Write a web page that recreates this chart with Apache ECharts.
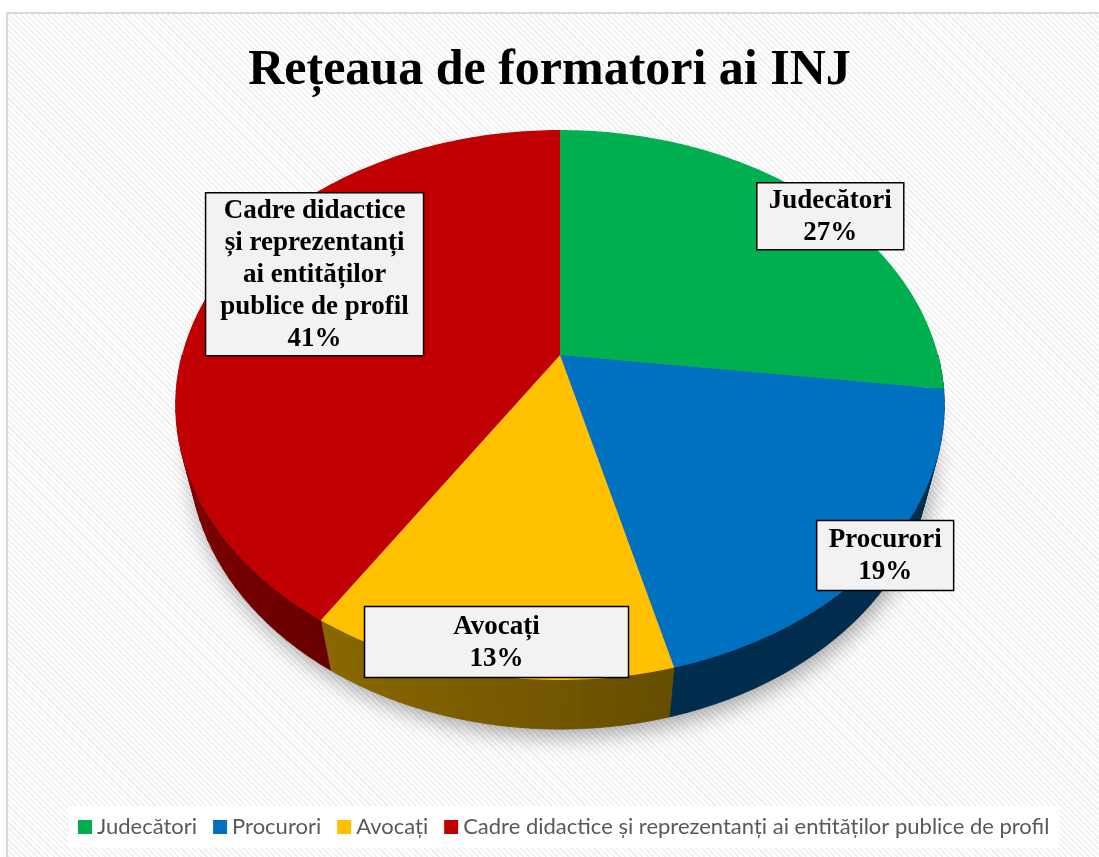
<!DOCTYPE html>
<html>
<head>
<meta charset="utf-8">
<script src="https://cdn.jsdelivr.net/npm/echarts@6/dist/echarts.min.js"></script>
<style>
    html, body {
        margin: 0;
        padding: 0;
        background: #fff;
    }
    .frame {
        position: absolute;
        left: 6px;
        top: 12px;
        width: 1100px;
        height: 860px;
        border: 2px solid #d9d9d9;
        background: repeating-linear-gradient(45deg, #efefef 0px, #efefef 1.5px, #ffffff 1.5px, #ffffff 4px);
    }
    #chart {
        position: absolute;
        left: 0;
        top: 0;
        width: 1099px;
        height: 857px;
    }
</style>
</head>
<body>
<div class="frame"></div>
<div id="chart"></div>
<script>
// date din grafic
var categories = ["Judecători", "Procurori", "Avocați", "Cadre didactice și reprezentanți ai entităților publice de profil"];
var values = [27, 19, 13, 41];
var labelLines = ["Judecători", "Procurori", "Avocați", "Cadre didactice\nși reprezentanți\nai entităților\npublice de profil"];
var colors = ["#00b050", "#0070c0", "#ffc000", "#c00000"];

// aspect: etichete (deplasare fata de pozitia calculata) si marimea casutelor
var labelOffset = [[40, 4], [39, 23], [0, 5], [67, -17]];
var labelBox = [[147, 67], [137, 70], [264, 71], [218, 163]];

// perspectiva pentru "3D"
var cx = 560, cy = 355;
var F = 1478, D = 3.91, H = 0.2;
var phi = 44.7 * Math.PI / 180;
var labelR = 0.9;

var total = values.reduce(function (s, v) { return s + v; }, 0);

function project(deg, r, h) {
    var t = deg * Math.PI / 180;
    var u = r * Math.sin(t);
    var v = -r * Math.cos(t);
    var yc = -v * Math.sin(phi) + h * Math.cos(phi);
    var zc = D - v * Math.cos(phi) - h * Math.sin(phi);
    return [cx + F * u / zc, cy - F * yc / zc];
}

function shade(hex, f) {
    var n = parseInt(hex.slice(1), 16);
    var r = Math.round(((n >> 16) & 255) * f);
    var g = Math.round(((n >> 8) & 255) * f);
    var b = Math.round((n & 255) * f);
    return "rgb(" + r + "," + g + "," + b + ")";
}

function wallFactor(deg) {
    if (deg < 165) return 0.4;
    return 0.4 + 0.32 * (deg - 165) / 105;
}

function makeRender(i) {
    return function (params, api) {
        var a0 = api.value(0) / total * 360;
        var a1 = api.value(1) / total * 360;
        var children = [];
        // peretele lateral (doar partea din fata)
        var w0 = Math.max(a0, 90), w1 = Math.min(a1, 270);
        var step = 2;
        for (var a = w0; a < w1; a += step) {
            var b = Math.min(a + step, w1);
            var c = shade(colors[i], wallFactor((a + b) / 2));
            children.push({
                type: "polygon",
                z2: 1,
                shape: { points: [project(a, 1, 0), project(b, 1, 0), project(b, 1, -H), project(a, 1, -H)] },
                style: { fill: c, stroke: c, lineWidth: 0.6 }
            });
        }
        // fata de sus
        var pts = [project(0, 0, 0)];
        for (var d = a0; d < a1; d += 1) {
            pts.push(project(d, 1, 0));
        }
        pts.push(project(a1, 1, 0));
        children.push({
            type: "polygon",
            z2: 10,
            shape: { points: pts },
            style: { fill: colors[i] }
        });
        // eticheta
        var mid = (a0 + a1) / 2;
        var p = project(mid, labelR, 0);
        var lx = p[0] + labelOffset[i][0];
        var ly = p[1] + labelOffset[i][1];
        var bw = labelBox[i][0], bh = labelBox[i][1];
        children.push({
            type: "rect",
            z2: 100,
            shape: { x: lx - bw / 2, y: ly - bh / 2, width: bw, height: bh },
            style: { fill: "#f2f2f2", stroke: "#000", lineWidth: 1.5 }
        });
        children.push({
            type: "text",
            z2: 101,
            x: lx,
            y: ly + 1,
            style: {
                text: labelLines[i] + "\n" + Math.round(values[i] / total * 100) + "%",
                font: 'bold 27px "Liberation Serif"',
                fill: "#000",
                align: "center",
                verticalAlign: "middle",
                lineHeight: 32
            }
        });
        return { type: "group", children: children };
    };
}

var series = [];
// umbra de sub disc
series.push({
    type: "custom",
    name: "umbra",
    coordinateSystem: "none",
    silent: true,
    data: [[0]],
    renderItem: function () {
        var pts = [];
        for (var d = 0; d < 360; d += 2) pts.push(project(d, 1, -H));
        return {
            type: "polygon",
            z2: 0,
            shape: { points: pts },
            style: {
                fill: "#777",
                shadowBlur: 22,
                shadowColor: "rgba(0,0,0,0.35)",
                shadowOffsetX: 3,
                shadowOffsetY: 7
            }
        };
    }
});
var cum = 0;
for (var i = 0; i < values.length; i++) {
    series.push({
        type: "custom",
        name: categories[i],
        coordinateSystem: "none",
        itemStyle: { color: colors[i] },
        data: [[cum, cum + values[i]]],
        renderItem: makeRender(i)
    });
    cum += values[i];
}

var chart = echarts.init(document.getElementById("chart"));
chart.setOption({
    backgroundColor: "transparent",
    animation: false,
    title: {
        text: "Rețeaua de formatori ai INJ",
        left: "center",
        top: 41,
        textStyle: {
            fontFamily: "Liberation Serif",
            fontWeight: "bold",
            fontSize: 50,
            color: "#000"
        }
    },
    legend: {
        data: categories,
        bottom: 9,
        left: 68,
        icon: "rect",
        itemWidth: 14,
        itemHeight: 14,
        itemGap: 16,
        backgroundColor: "#fff",
        padding: [10, 10],
        textStyle: {
            fontFamily: "Lato",
            fontSize: 22,
            color: "#595959"
        }
    },
    series: series
});
</script>
</body>
</html>
